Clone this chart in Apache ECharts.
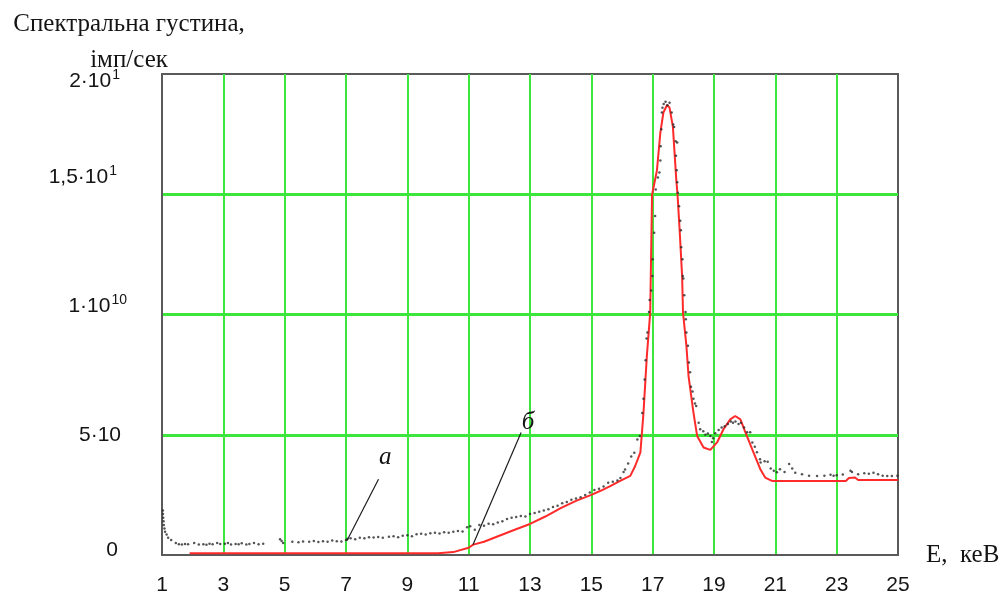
<!DOCTYPE html>
<html><head><meta charset="utf-8">
<script src="https://cdn.jsdelivr.net/npm/echarts@6/dist/echarts.min.js"></script>
<style>html,body{margin:0;padding:0;background:#fff}#c{width:1004px;height:596px}</style>
</head><body><div id="c"></div>
<script>
// ---- data ----
const xTicks = [1,3,5,7,9,11,13,15,17,19,21,23,25];
const yTicks = [0,5,10,15,20];
const yTickBase = ['0','5·10','1·10','1,5·10','2·10'];
const yTickSup  = ['','','10','1','1'];

// б – fitted curve (red)
const fitCurve = [
 [1.9,0.07],[10.0,0.07],[10.05,0.12],[10.5,0.12],[10.55,0.2],[11.0,0.3],[11.15,0.43],[11.5,0.55],
 [12.0,0.8],[12.5,1.05],[13.0,1.29],[13.5,1.6],[14.0,1.95],[14.5,2.25],[15.0,2.5],[15.3,2.67],
 [15.6,2.85],[15.94,3.08],[16.27,3.29],[16.43,3.7],[16.6,4.27],[16.7,5.9],[16.81,8.27],[16.92,10.08],
 [16.98,14.98],[17.14,16.0],[17.25,17.55],[17.35,18.4],[17.47,18.71],[17.55,18.6],[17.66,17.8],
 [17.77,15.6],[17.81,15.0],[17.88,13.5],[17.96,11.6],[17.99,10.08],[18.1,8.7],[18.17,7.44],
 [18.33,5.92],[18.45,4.95],[18.66,4.47],[18.88,4.37],[19.1,4.68],[19.31,5.23],[19.53,5.64],
 [19.69,5.78],[19.86,5.64],[20.07,4.95],[20.29,4.26],[20.51,3.57],[20.67,3.22],[20.89,3.08],
 [23.3,3.08],[23.4,3.2],[23.6,3.22],[23.7,3.12],[25.0,3.12]
];

// а – measured spectrum (black dots)
const measured = [
 [1.03,1.85],[1.03,1.7],[1.04,1.55],[1.05,1.4],[1.06,1.25],[1.08,1.1],[1.1,0.97],[1.15,0.85],[1.2,0.72],
 [1.3,0.62],[1.45,0.5],[1.55,0.45],[1.65,0.44],[1.75,0.46],[1.85,0.45],[2.05,0.5],[2.2,0.44],[2.35,0.45],
 [2.45,0.43],[2.55,0.47],[2.65,0.45],[2.8,0.5],[2.9,0.46],[3.05,0.47],[3.15,0.5],[3.25,0.44],[3.4,0.46],
 [3.5,0.45],[3.6,0.49],[3.75,0.44],[3.85,0.46],[4.0,0.5],[4.15,0.45],[4.3,0.47],[4.85,0.65],[4.9,0.58],
 [4.95,0.5],[5.25,0.55],[5.45,0.53],[5.6,0.56],[5.8,0.55],[5.95,0.58],[6.1,0.54],[6.25,0.57],[6.4,0.55],
 [6.55,0.6],[6.7,0.57],[6.85,0.56],[7.0,0.62],[7.05,0.68],[7.15,0.7],[7.3,0.66],[7.45,0.72],[7.6,0.7],
 [7.75,0.74],[7.9,0.73],[8.05,0.75],[8.2,0.72],[8.4,0.76],[8.55,0.78],[8.7,0.74],[8.85,0.8],[9.0,0.82],
 [9.15,0.78],[9.3,0.86],[9.45,0.88],[9.6,0.85],[9.75,0.9],[9.9,0.92],[10.05,0.89],[10.2,0.95],[10.35,0.93],
 [10.5,0.97],[10.65,1.0],[10.8,0.98],[10.95,1.15],[11.05,1.2],[11.2,1.05],[11.35,1.25],[11.5,1.22],
 [11.65,1.3],[11.8,1.28],[11.95,1.35],[12.1,1.4],[12.25,1.5],[12.4,1.55],[12.55,1.58],[12.7,1.62],
 [12.85,1.6],[13.0,1.7],[13.15,1.75],[13.3,1.8],[13.45,1.85],[13.6,1.9],[13.75,2.0],[13.9,2.05],
 [14.05,2.15],[14.2,2.2],[14.35,2.3],[14.5,2.35],[14.65,2.4],[14.8,2.5],[14.95,2.6],[15.1,2.7],
 [15.25,2.75],[15.4,2.85],[15.55,3.0],[15.7,3.05],[15.85,3.1],[15.95,3.2],[16.05,3.45],[16.1,3.55],
 [16.2,3.8],[16.3,4.1],[16.4,4.25],[16.5,4.8],[16.58,4.95],[16.66,5.9],[16.7,6.5],[16.74,7.3],[16.77,8.1],
 [16.8,9.0],[16.83,9.25],[16.88,10.1],[16.9,10.6],[16.95,11.0],[16.99,11.6],[17.0,12.3],[17.05,13.4],
 [17.08,14.1],[17.1,15.2],[17.17,15.7],[17.22,15.9],[17.25,16.4],[17.26,17.0],[17.28,17.7],[17.3,18.4],
 [17.32,18.6],[17.36,18.75],[17.42,18.85],[17.48,18.7],[17.55,18.8],[17.62,18.4],[17.67,17.9],[17.7,17.8],
 [17.75,17.2],[17.8,17.15],[17.76,16.6],[17.78,16.0],[17.8,15.5],[17.82,15.06],[17.86,14.5],[17.9,13.9],
 [17.92,13.5],[17.93,12.8],[17.97,12.3],[17.98,11.6],[18.0,11.5],[18.03,10.8],[18.07,10.1],[18.08,9.8],
 [18.1,9.25],[18.15,8.7],[18.18,8.0],[18.22,7.6],[18.25,7.0],[18.3,6.8],[18.33,6.5],[18.38,6.3],[18.42,6.2],
 [18.5,5.5],[18.55,5.23],[18.65,5.15],[18.72,5.0],[18.8,5.05],[18.88,4.95],[18.93,4.7],[18.97,4.85],
 [19.04,5.06],[19.15,5.2],[19.25,5.3],[19.35,5.35],[19.45,5.45],[19.55,5.55],[19.62,5.5],[19.7,5.55],
 [19.8,5.45],[19.88,5.5],[19.98,5.3],[20.08,5.1],[20.18,5.1],[20.25,4.68],[20.33,4.5],[20.4,4.27],
 [20.5,3.98],[20.52,3.85],[20.65,3.9],[20.75,3.88],[20.85,3.6],[20.95,3.5],[21.05,3.44],[21.15,3.57],
 [21.3,3.45],[21.45,3.78],[21.55,3.6],[21.65,3.42],[21.87,3.36],[22.1,3.3],[22.36,3.29],[22.6,3.3],
 [22.8,3.34],[22.9,3.3],[23.0,3.32],[23.2,3.35],[23.45,3.5],[23.5,3.45],[23.7,3.36],[23.9,3.4],[24.05,3.38],
 [24.2,3.42],[24.35,3.36],[24.5,3.3],[24.65,3.29],[24.8,3.28],[24.98,3.3]
];

// annotation leaders and letters (data coordinates)
const leaderA = [[8.06,3.15],[7.03,0.59]];
const leaderB = [[12.71,5.09],[11.14,0.43]];
const letterA = ['а',[8.28,4.07]];
const letterB = ['б',[12.94,5.5]];

const titleText = 'Спектральна густина,\nімп/сек';
const xName = 'E,  кеВ';

// ---- styles ----
const GREEN = '#3ce63c';
const FRAME = '#5a5a5a';
const TXT = '#141414';
const SANS = 'Liberation Sans';
const SERIF = 'Liberation Serif';
// vertical shift (px, + = up) and extra right padding of the y tick labels
const yShift = [5, 0, 8, 17, -7.5];
const yRightPad = [9, 6, 0, 10, 7];
const supRaise = 6;

const rich = {};
yTicks.forEach((v, i) => {
  const d = yShift[i];
  const hasSup = yTickSup[i] !== '';
  rich['b' + i] = {
    fontFamily: SANS, fontSize: 21, color: TXT,
    padding: [Math.max(0, -2 * d), hasSup ? 0 : yRightPad[i], Math.max(0, 2 * d), 0]
  };
  const s = d + supRaise;
  rich['s' + i] = {
    fontFamily: SANS, fontSize: 14, color: TXT,
    padding: [Math.max(0, -2 * s), yRightPad[i], Math.max(0, 2 * s), 1]
  };
});

const chart = echarts.init(document.getElementById('c'), null, {renderer: 'canvas'});
chart.setOption({
  animation: false,
  backgroundColor: '#fff',
  grid: {left: 162, top: 74, width: 736, height: 482, show: true, borderColor: FRAME, borderWidth: 2, backgroundColor: 'transparent'},
  xAxis: {
    type: 'value', min: 1, max: 25,
    name: xName, nameLocation: 'end', nameGap: 28, nameMoveOverlap: false,
    nameTextStyle: {fontFamily: SERIF, fontSize: 25, color: TXT, padding: [10, 0, 0, 0]},
    axisLine: {show: true, onZero: false, lineStyle: {color: FRAME, width: 2}},
    axisTick: {show: false, customValues: xTicks},
    axisLabel: {customValues: xTicks, margin: 20, fontFamily: SANS, fontSize: 21, color: TXT},
    splitLine: {show: true, showMinLine: false, showMaxLine: false, lineStyle: {color: GREEN, width: 2}}
  },
  yAxis: {
    type: 'value', min: 0, max: 20, interval: 5,
    name: titleText, nameLocation: 'end', nameGap: -4, nameMoveOverlap: false,
    nameTextStyle: {fontFamily: SERIF, fontSize: 25, color: TXT, lineHeight: 36, align: 'center', padding: [0, 66, 0, 0]},
    axisLine: {show: true, onZero: false, lineStyle: {color: FRAME, width: 2}},
    axisTick: {show: false},
    axisLabel: {
      margin: 35, rich: rich,
      formatter: function (v) {
        const i = yTicks.indexOf(v);
        if (i < 0) return '';
        let s = '{b' + i + '|' + yTickBase[i] + '}';
        if (yTickSup[i]) s += '{s' + i + '|' + yTickSup[i] + '}';
        return s;
      }
    },
    splitLine: {show: true, showMinLine: false, showMaxLine: false, lineStyle: {color: GREEN, width: 3}}
  },
  series: [
    {
      name: 'б', type: 'line', data: fitCurve, showSymbol: false, symbol: 'none', z: 3,
      lineStyle: {color: '#ff2a2a', width: 2}
    },
    {
      name: 'а', type: 'scatter', data: measured, symbolSize: 2.5, z: 4,
      itemStyle: {color: '#2b2b2b'},
      markLine: {
        silent: true, symbol: ['none', 'none'], animation: false,
        lineStyle: {color: '#1e1e1e', width: 1.2, type: 'solid'},
        label: {show: false},
        data: [
          [{coord: leaderA[0]}, {coord: leaderA[1]}],
          [{coord: leaderB[0]}, {coord: leaderB[1]}]
        ]
      },
      markPoint: {
        silent: true, symbol: 'circle', symbolSize: 1, animation: false,
        itemStyle: {color: 'rgba(0,0,0,0)'},
        label: {show: true, position: 'inside', formatter: '{b}', fontFamily: SERIF, fontStyle: 'italic', fontSize: 25, color: TXT},
        data: [
          {name: letterA[0], coord: letterA[1]},
          {name: letterB[0], coord: letterB[1]}
        ]
      }
    }
  ]
});
</script></body></html>
